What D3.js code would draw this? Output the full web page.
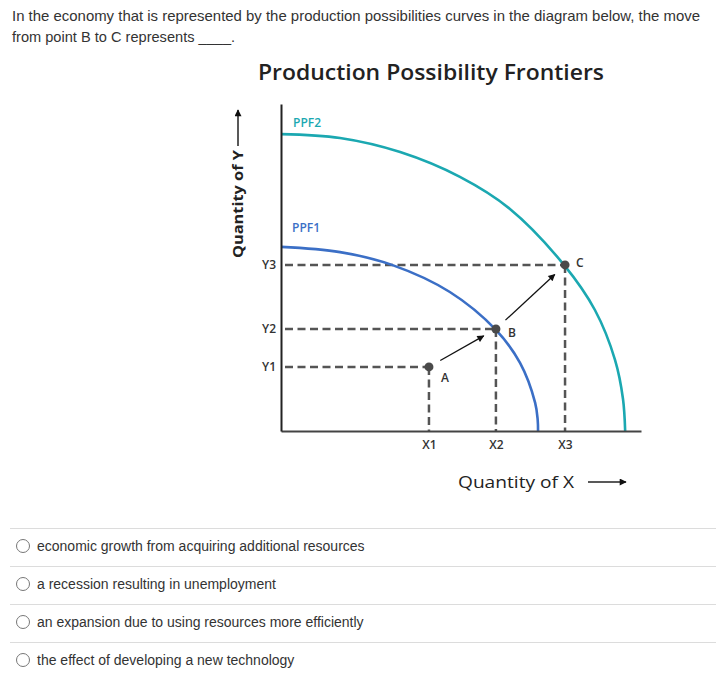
<!DOCTYPE html>
<html>
<head>
<meta charset="utf-8">
<script src="https://cdn.jsdelivr.net/npm/d3@7"></script>
<style>
  html, body { margin: 0; padding: 0; background: #fff; }
  svg { display: block; }
</style>
</head>
<body>
<svg id="chart" width="716" height="679"></svg>
<script>
// ---------- data ----------
const questionLines = [
  "In the economy that is represented by the production possibilities curves in the diagram below, the move",
  "from point B to C represents ____."
];
const chartTitle = "Production Possibility Frontiers";
const options = [
  "economic growth from acquiring additional resources",
  "a recession resulting in unemployment",
  "an expansion due to using resources more efficiently",
  "the effect of developing a new technology"
];
// PPF curves (axis units 0-100)
const ppf1X = [0, 16.4, 30.8, 46.9, 59.7, 66.4, 70.6, 71.3, 71.4];
const ppf1Y = [56.3, 54.7, 50.8, 42.5, 30.9, 20.8, 8.6, 3.4, 0];
const ppf2X = [0, 16.4, 33.1, 49.7, 63.6, 78.6, 87.2, 92.8, 95.0, 95.6];
const ppf2Y = [90.8, 89.6, 85.3, 77.7, 67.9, 50.8, 37.0, 21.7, 9.8, 0];
// points A, B, C
const pointNames = ["A", "B", "C"];
const pointX = [41.1, 59.7, 78.9];
const pointY = [19.6, 31.2, 50.8];
const xTickLabels = ["X1", "X2", "X3"];
const yTickLabels = ["Y1", "Y2", "Y3"];
const curveLabels = ["PPF1", "PPF2"];

// ---------- drawing ----------
const svg = d3.select("#chart");

// question text
svg.selectAll("text.q").data(questionLines).join("text")
  .attr("class", "q")
  .attr("x", 12)
  .attr("y", (d, i) => 21 + i * 21)
  .attr("font-family", "'Liberation Sans', Arial, sans-serif")
  .attr("font-size", 14.6)
  .attr("fill", "#333")
  .each(function (d, i) { if (i === 0) d3.select(this).attr("textLength", 688).attr("lengthAdjust", "spacingAndGlyphs"); })
  .text(d => d);

// title
svg.append("text")
  .attr("x", 431).attr("y", 80)
  .attr("text-anchor", "middle")
  .attr("font-family", "'Open Sans', sans-serif")
  .attr("font-weight", 600)
  .attr("font-size", 22)
  .attr("textLength", 346)
  .attr("lengthAdjust", "spacingAndGlyphs")
  .attr("fill", "#222")
  .text(chartTitle);

const x = d3.scaleLinear().domain([0, 100]).range([281, 641]);
const y = d3.scaleLinear().domain([0, 100]).range([431, 104]);

const labelFont = "'Open Sans', sans-serif";

// dashed guide lines
const g = svg.append("g");
pointNames.forEach((n, i) => {
  g.append("line")
    .attr("x1", x(0) + 4).attr("x2", x(pointX[i]))
    .attr("y1", y(pointY[i])).attr("y2", y(pointY[i]))
    .attr("stroke", "#555").attr("stroke-width", 2.5)
    .attr("stroke-dasharray", "8,4.5");
  g.append("line")
    .attr("x1", x(pointX[i])).attr("x2", x(pointX[i]))
    .attr("y1", y(pointY[i])).attr("y2", y(0))
    .attr("stroke", "#555").attr("stroke-width", 2.5)
    .attr("stroke-dasharray", "8,4.5");
});

// curves
const line = d3.line().x(d => x(d[0])).y(d => y(d[1])).curve(d3.curveCatmullRom.alpha(0.5));
const ppf1 = ppf1X.map((v, i) => [v, ppf1Y[i]]);
const ppf2 = ppf2X.map((v, i) => [v, ppf2Y[i]]);
svg.append("path").attr("d", line(ppf1)).attr("fill", "none")
  .attr("stroke", "#3b6fc6").attr("stroke-width", 2.6);
svg.append("path").attr("d", line(ppf2)).attr("fill", "none")
  .attr("stroke", "#1ba8b1").attr("stroke-width", 2.6);

// curve labels
svg.append("text").attr("x", 292).attr("y", 232)
  .attr("font-family", labelFont).attr("font-weight", 600).attr("font-size", 12)
  .attr("fill", "#3b6fc6").text(curveLabels[0]);
svg.append("text").attr("x", 293).attr("y", 127)
  .attr("font-family", labelFont).attr("font-weight", 600).attr("font-size", 12)
  .attr("fill", "#1ba8b1").text(curveLabels[1]);

// axes
const xAxis = d3.axisBottom(x).tickValues(pointX)
  .tickFormat((d, i) => xTickLabels[i]).tickSize(0).tickSizeOuter(0).tickPadding(9);
const yAxis = d3.axisLeft(y).tickValues(pointY)
  .tickFormat((d, i) => yTickLabels[i]).tickSize(0).tickSizeOuter(0).tickPadding(5);

const gx = svg.append("g").attr("transform", `translate(0,${y(0)})`).call(xAxis);
gx.select(".domain").attr("stroke", "#444").attr("stroke-width", 2.2);
gx.selectAll("text").attr("font-family", labelFont).attr("font-size", 12)
  .attr("font-weight", 600).attr("fill", "#333");

const gy = svg.append("g").attr("transform", `translate(${x(0)},0)`).call(yAxis);
gy.select(".domain").attr("stroke", "#222").attr("stroke-width", 2);
gy.selectAll("text").attr("font-family", labelFont).attr("font-size", 12)
  .attr("font-weight", 600).attr("fill", "#333");

// arrow marker
svg.append("defs").append("marker")
  .attr("id", "ah").attr("viewBox", "0 0 10 10")
  .attr("refX", 9).attr("refY", 5)
  .attr("markerWidth", 9).attr("markerHeight", 7)
  .attr("markerUnits", "userSpaceOnUse")
  .attr("orient", "auto")
  .append("path").attr("d", "M0,0 L10,5 L0,10 Z").attr("fill", "#111");

// movement arrows A->B, B->C
for (let i = 0; i < pointNames.length - 1; i++) {
  const x1 = x(pointX[i]), y1 = y(pointY[i]);
  const x2 = x(pointX[i + 1]), y2 = y(pointY[i + 1]);
  const dx = x2 - x1, dy = y2 - y1, L = Math.hypot(dx, dy);
  const s = 13 / L, e = 14 / L;
  svg.append("line")
    .attr("x1", x1 + dx * s).attr("y1", y1 + dy * s)
    .attr("x2", x2 - dx * e).attr("y2", y2 - dy * e)
    .attr("stroke", "#111").attr("stroke-width", 1.3)
    .attr("marker-end", "url(#ah)");
}

// points
svg.selectAll("circle.pt").data(pointNames).join("circle")
  .attr("class", "pt")
  .attr("cx", (d, i) => x(pointX[i])).attr("cy", (d, i) => y(pointY[i]))
  .attr("r", 4.5).attr("fill", "#4a4a4a");
const labelOffsets = [[12, 15], [12, 8], [11, 2]];
svg.selectAll("text.pl").data(pointNames).join("text")
  .attr("class", "pl")
  .attr("x", (d, i) => x(pointX[i]) + labelOffsets[i][0])
  .attr("y", (d, i) => y(pointY[i]) + labelOffsets[i][1])
  .attr("font-family", labelFont).attr("font-size", 12).attr("font-weight", 600)
  .attr("fill", "#333")
  .text(d => d);

// axis titles
svg.append("text")
  .attr("transform", "translate(243,204) rotate(-90)")
  .attr("text-anchor", "middle")
  .attr("font-family", labelFont).attr("font-weight", 700).attr("font-size", 15)
  .attr("textLength", 108).attr("lengthAdjust", "spacingAndGlyphs")
  .attr("fill", "#222")
  .text("Quantity of Y");
svg.append("line").attr("x1", 238).attr("x2", 238).attr("y1", 146).attr("y2", 110)
  .attr("stroke", "#222").attr("stroke-width", 1.5).attr("marker-end", "url(#ah)");

svg.append("text")
  .attr("x", 458).attr("y", 488)
  .attr("font-family", labelFont).attr("font-size", 16).attr("font-weight", 500)
  .attr("textLength", 116).attr("lengthAdjust", "spacingAndGlyphs")
  .attr("fill", "#222")
  .text("Quantity of X");
svg.append("line").attr("x1", 588).attr("x2", 626).attr("y1", 482).attr("y2", 482)
  .attr("stroke", "#222").attr("stroke-width", 1.5).attr("marker-end", "url(#ah)");

// options
const optTop = 528, optStep = 38;
options.forEach((t, i) => {
  svg.append("line")
    .attr("x1", 10).attr("x2", 716)
    .attr("y1", optTop + i * optStep + 0.5).attr("y2", optTop + i * optStep + 0.5)
    .attr("stroke", "#dcdcdc").attr("stroke-width", 1);
  svg.append("circle")
    .attr("cx", 23).attr("cy", optTop + i * optStep + 18)
    .attr("r", 6.5).attr("fill", "#fff").attr("stroke", "#777").attr("stroke-width", 1);
  svg.append("text")
    .attr("x", 37).attr("y", optTop + i * optStep + 23)
    .attr("font-family", "'Liberation Sans', Arial, sans-serif")
    .attr("font-size", 14).attr("fill", "#333")
    .text(t);
});
</script>
</body>
</html>
